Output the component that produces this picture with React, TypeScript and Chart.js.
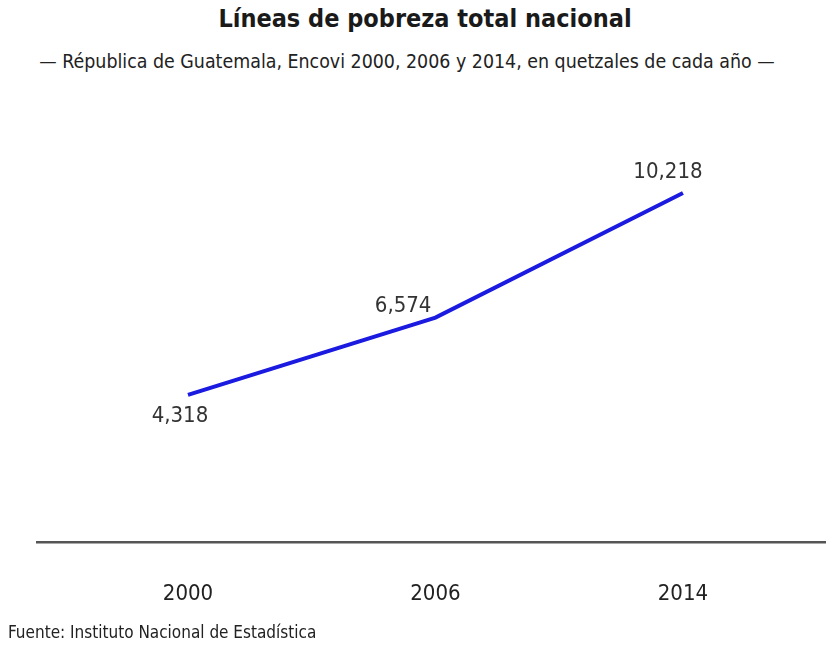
import React, { useEffect, useRef } from "react";
import { Chart, registerables } from "chart.js";

Chart.register(...registerables);

const years = ["2000", "2006", "2014"];
const values = [4318, 6574, 10218];
const valueLabels = ["4,318", "6,574", "10,218"];

const FONT = "'Liberation Sans Narrow', 'DejaVu Sans Condensed', 'Open Sans', sans-serif";

const labelPlugin = {
  id: "pointLabels",
  afterDatasetsDraw(chart: any) {
    const meta = chart.getDatasetMeta(0);
    const ctx = chart.ctx;
    ctx.save();
    ctx.font = `22px ${FONT}`;
    ctx.fillStyle = "#333333";
    ctx.textBaseline = "middle";
    const offsets = [
      { dx: -8, dy: 21, align: "center" },
      { dx: -4, dy: -11, align: "right" },
      { dx: -15, dy: -21, align: "center" },
    ];
    meta.data.forEach((pt: any, i: number) => {
      const o = offsets[i];
      ctx.textAlign = o.align;
      ctx.fillText(valueLabels[i], pt.x + o.dx, pt.y + o.dy);
    });
    ctx.restore();
  },
};

export default function App() {
  const ref = useRef<HTMLCanvasElement>(null);
  useEffect(() => {
    if (!ref.current) return;
    const chart = new Chart(ref.current, {
      type: "line",
      data: {
        datasets: [
          {
            data: values.map((v, i) => ({ x: i, y: v })),
            borderColor: "#1a1ae0",
            borderWidth: 4,
            pointRadius: 0,
            tension: 0,
            fill: false,
          },
        ],
      },
      options: {
        animation: false,
        responsive: false,
        maintainAspectRatio: false,
        layout: { padding: { top: 132, left: 37, right: 0, bottom: 13 } },
        plugins: {
          legend: { display: false },
          tooltip: { enabled: false },
          title: { display: false },
        },
        scales: {
          x: {
            type: "linear",
            min: -0.61,
            max: 2.578,
            grid: { display: false },
            border: { display: true, color: "#555555", width: 2.5 },
            afterBuildTicks: (axis: any) => {
              axis.ticks = years.map((_, i) => ({ value: i }));
            },
            ticks: {
              padding: 30,
              color: "#222222",
              font: { family: FONT, size: 22 },
              maxRotation: 0,
              callback: (v: any) => years[v as number] ?? "",
            },
          },
          y: {
            display: false,
            min: 0,
            max: 12000,
          },
        },
      },
      plugins: [labelPlugin],
    });
    return () => chart.destroy();
  }, []);

  return (
    <div style={{ position: "absolute", left: 0, top: 0, width: 826, height: 650, background: "#fff", fontFamily: FONT }}>
      <div style={{ position: "absolute", left: 0, top: 4, width: 850, textAlign: "center", fontSize: 25, fontWeight: "bold", color: "#1a1a1a" }}>
        Líneas de pobreza total nacional
      </div>
      <div style={{ position: "absolute", left: 0, top: 50, width: 814, textAlign: "center", fontSize: 19.4, color: "#222" }}>
        — Républica de Guatemala, Encovi 2000, 2006 y 2014, en quetzales de cada año —
      </div>
      <canvas ref={ref} width={826} height={650} style={{ position: "absolute", left: 0, top: 0 }} />
      <div style={{ position: "absolute", left: 8, top: 622, fontSize: 17, color: "#222" }}>
        Fuente: Instituto Nacional de Estadística
      </div>
    </div>
  );
}
